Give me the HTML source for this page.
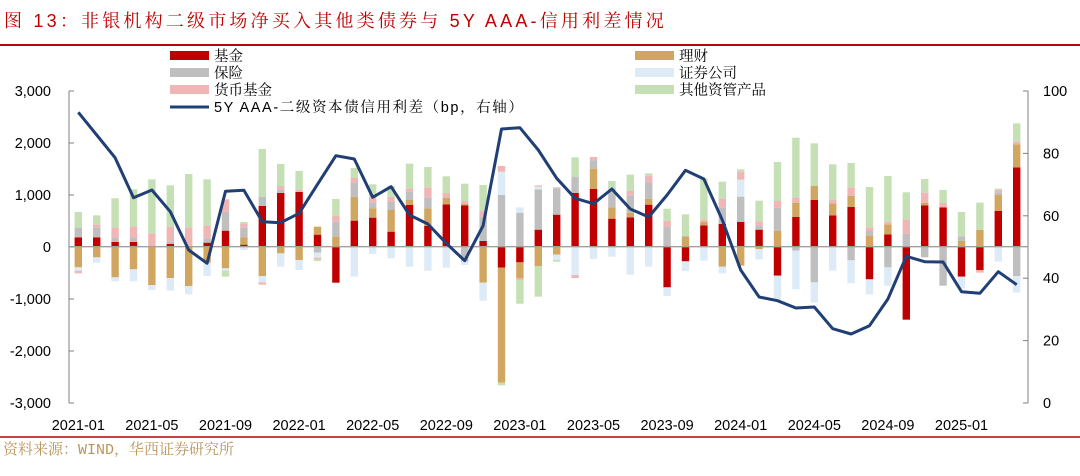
<!DOCTYPE html>
<html><head><meta charset="utf-8"><style>
body{margin:0;background:#fff;width:1080px;height:476px;overflow:hidden;font-family:"Liberation Sans","Noto Sans CJK SC",sans-serif;}
svg{display:block}
</style></head><body>
<svg id="s" width="1080" height="476" xmlns="http://www.w3.org/2000/svg">
<text x="4" y="27" font-size="18" fill="#c00000" font-family="Liberation Sans,Noto Serif CJK SC,serif" letter-spacing="3.2">图 13：非银机构二级市场净买入其他类债券与 5Y AAA-信用利差情况</text>
<line x1="0" y1="45" x2="1080" y2="45" stroke="#c00000" stroke-width="2"/>
<line x1="0" y1="437" x2="1080" y2="437" stroke="#c00000" stroke-width="1.5"/>
<text x="3" y="454" font-size="15" fill="#b8955a" font-family="Liberation Mono,Noto Serif CJK SC,monospace">资料来源：WIND，华西证券研究所</text>
<g id="g"></g>
<g font-size="14.5" fill="#000" font-family="Liberation Sans,Noto Serif CJK SC,serif">
<rect x="170" y="51" width="39" height="9" fill="#c00000"/><text x="214" y="61">基金</text>
<rect x="170" y="68" width="39" height="9" fill="#bfbfbf"/><text x="214" y="78">保险</text>
<rect x="170" y="85" width="39" height="9" fill="#f0b6b6"/><text x="214" y="95">货币基金</text>
<line x1="170" y1="107" x2="209" y2="107" stroke="#203f74" stroke-width="3"/><text x="214" y="112" letter-spacing="1.6">5Y AAA-二级资本债信用利差（bp，右轴）</text>
<rect x="635" y="51" width="39" height="9" fill="#d0a660"/><text x="679" y="61">理财</text>
<rect x="635" y="68" width="39" height="9" fill="#ddebf7"/><text x="679" y="78">证券公司</text>
<rect x="635" y="85" width="39" height="9" fill="#c5e0b4"/><text x="679" y="95">其他资管产品</text>
</g>
</svg>
<script>
const C={r:"#c00000",t:"#d0a660",g:"#bfbfbf",b:"#ddebf7",p:"#f0b6b6",e:"#c5e0b4"};
const B=[
"r472500 g443472 e396443 t500562 b562572 p572580",
"r472500 g443472 p433443 e406433 t500532 b532548",
"r486500 g472486 p443472 e355443 t500592 b592604",
"r486500 g472486 p440472 e328440 t500568 b568604",
"p461500 e298461 t500615 b615630",
"r492500 g486492 p440486 e316440 t500594 b594632",
"p443500 e282443 t500618 b618643",
"r488500 g475488 p437475 e298437 t500548 b548588",
"r452500 g395452 p358395 t500565 b565572 e572590",
"r494500 t472494 g443472 p432443 e426432 b500510",
"r378500 g350378 e207350 t500588 b588607 p607614",
"r339500 g328339 p318328 e252318 t500520 b520560",
"r336500 p329336 e273329 t500540 b540570",
"r464500 t440464 g500518 b518533 p533538 e538543",
"t470500 g425470 p407425 e357407 r500608",
"r422500 t350422 g308350 p293308 e264293 b500590",
"r413500 t385413 g368385 p352368 e313352 b500522",
"r455500 t390455 g365390 p350365 e318350 b500535",
"r375500 t360375 g335360 p327335 e251327 b500560",
"r438500 t385438 g353385 p322353 e261322 b500572",
"r373500 t353373 p339353 e289339 b500563",
"r376500 t371376 p363371 e311363 g500545 b545555",
"r483500 g410483 p393410 e315393 t500608 b608662",
"g345500 b275345 p258275 r500563 t563908 e908916",
"g398500 b382398 r500547 t547595 p595600 e600671",
"r449500 g328449 b320328 p316320 t500558 e558650",
"r404500 g325404 p322325 t500524 b524540 e540545",
"r339500 g290339 e232290 b500585 p585594",
"r327500 t266327 g241266 p231241 b500537",
"r416500 t382416 g326382 e303326 b500530",
"r412500 t398412 g347398 p332347 e284332 b500584",
"r374500 t356374 g307356 p287307 e280287 b500560",
"g440500 p422440 e386422 r500622 b622648",
"t471500 g467471 e403467 r500544 b544573",
"r436500 t425436 p418425 e296418 b500542",
"r432500 g383432 p356383 e305356 t500560 b560580",
"r426500 g350426 b299350 p275299 e268275 t500557",
"r449500 g436449 p424436 e362424 t500507 b507538",
"t452500 g383452 p363383 e246363 r500587 b587660",
"r411500 t368411 p352368 e173352 g500512 b512628",
"r360500 t318360 e190318 g500607 b607668",
"r406500 t370406 p360370 e253360 b500572",
"r381500 t348381 p322348 e249322 g500541 b541610",
"t467500 g453467 p443453 e321443 r500598 b598643",
"r463500 t433463 p425433 e288425 g500562 b562617",
"g461500 p420461 e337420 r500719",
"r376500 t368376 p338368 e297338 g500532",
"r382500 p369382 e330369 g500617",
"t482500 g469482 e396469 r500590 b590625",
"t450500 e368450 r500570 p570578",
"r393500 t344393 g337344 p330337 e326330 b500545",
"r262500 t193262 p185193 e130185 g500588 b588638"];
const L=[97,165,233,353,330,395,510,550,334,331,425,428,400,313,227,237,352,320,405,432,490,542,437,147,143,210,295,355,371,327,387,411,345,271,297,420,570,651,662,684,681,746,762,737,657,529,545,546,635,640,575,614];
const X=i=>78.3+18.4*i, Y=z=>80+z/3;
let h="";
h+='<line x1="69" y1="91" x2="69" y2="403" stroke="#808080"/>';
const lv=["3,000","2,000","1,000","0","-1,000","-2,000","-3,000"];
for(let k=0;k<7;k++){const y=91+52*k;h+=`<line x1="69" y1="${y}" x2="74" y2="${y}" stroke="#808080"/><text x="51" y="${y+5}" font-size="14.5" text-anchor="end">${lv[k]}</text>`;}
h+='<line x1="1028" y1="91" x2="1028" y2="403" stroke="#808080"/>';
for(let k=0;k<6;k++){const y=91+62.4*k;h+=`<line x1="1023" y1="${y}" x2="1028" y2="${y}" stroke="#808080"/><text x="1043" y="${y+5}" font-size="14.5">${100-20*k}</text>`;}
const xl=["2021-01","2021-05","2021-09","2022-01","2022-05","2022-09","2023-01","2023-05","2023-09","2024-01","2024-05","2024-09","2025-01"];
xl.forEach((t,k)=>{h+=`<text x="${X(4*k)}" y="430" font-size="14.5" text-anchor="middle">${t}</text>`;});
B.forEach((s,i)=>{s.split(" ").forEach(q=>{const c=C[q[0]],a=+q.slice(1,4),b=+q.slice(4);h+=`<rect x="${(X(i)-3.7).toFixed(1)}" y="${Y(a).toFixed(2)}" width="7.4" height="${((b-a)/3).toFixed(2)}" fill="${c}"/>`;});});
h+='<line x1="69" y1="246.7" x2="1028" y2="246.7" stroke="#a0a0a0" stroke-width="1.3"/>';
h+='<polyline fill="none" stroke="#203f74" stroke-width="3" stroke-linejoin="round" points="'+L.map((z,i)=>X(i).toFixed(1)+","+Y(z).toFixed(1)).join(" ")+'"/>';
document.getElementById("g").innerHTML=h;
</script>
</body></html>
